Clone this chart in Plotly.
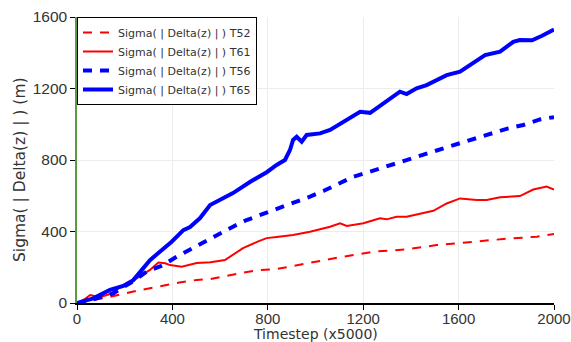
import plotly.graph_objects as go

# ---- data ----
t52_x = [0, 50, 138, 250, 348, 430, 502, 558, 696, 767, 837, 977, 1061, 1103, 1242, 1382, 1508, 1648, 1788, 1928, 2000]
t52_y = [0, 12, 34, 68, 95, 115, 129, 134, 170, 185, 190, 226, 246, 256, 287, 300, 324, 343, 358, 371, 386]

t61_x = [0, 30, 55, 96, 138, 194, 250, 306, 341, 370, 390, 439, 502, 560, 620, 696, 760, 795, 837, 906, 977,
         1061, 1103, 1131, 1201, 1270, 1298, 1340, 1382, 1438, 1494, 1550, 1606, 1676, 1718, 1774, 1857, 1913, 1969, 2000]
t61_y = [0, 20, 45, 32, 50, 100, 138, 185, 226, 222, 212, 203, 224, 228, 240, 307, 345, 363, 369, 380, 399,
         427, 446, 431, 446, 474, 468, 483, 483, 498, 516, 557, 585, 576, 576, 591, 598, 635, 651, 635]

t56_x = [0, 13, 82, 152, 243, 292, 361, 418, 486, 586, 654, 711, 781, 844, 906, 977, 1035, 1103, 1158, 1229,
         1291, 1354, 1424, 1487, 1550, 1613, 1683, 1746, 1808, 1871, 1941, 2000]
t56_y = [0, 0, 26, 54, 128, 175, 212, 259, 307, 380, 427, 464, 498, 526, 558, 595, 628, 671, 706, 735,
         762, 790, 818, 846, 871, 897, 927, 955, 977, 996, 1027, 1040]

t65_x = [0, 30, 68, 138, 194, 236, 306, 397, 446, 474, 516, 558, 600, 654, 725, 797, 837, 872, 893, 906, 921,
         942, 963, 1019, 1061, 1116, 1187, 1229, 1298, 1354, 1382, 1424, 1466, 1550, 1606, 1661, 1711, 1774,
         1829, 1857, 1908, 1950, 2000]
t65_y = [0, 10, 26, 73, 95, 128, 240, 343, 408, 425, 475, 548, 576, 615, 677, 733, 772, 800, 856, 912, 930,
         902, 940, 949, 968, 1014, 1070, 1064, 1126, 1182, 1169, 1201, 1219, 1275, 1294, 1340, 1387, 1406,
         1461, 1471, 1470, 1495, 1530]

x_ticks = [0, 400, 800, 1200, 1600, 2000]
y_ticks = [0, 400, 800, 1200, 1600]
x_title = "Timestep (x5000)"
y_title = "Sigma( | Delta(z) | ) (m)"

TICKFONT = "Liberation Sans"
TEXTFONT = "DejaVu Sans"
fig = go.Figure()
fig.add_trace(go.Scatter(x=t52_x, y=t52_y, mode="lines", name="Sigma( | Delta(z) | ) T52",
                         line=dict(color="#ff0000", width=2, dash="9px,8px")))
fig.add_trace(go.Scatter(x=t61_x, y=t61_y, mode="lines", name="Sigma( | Delta(z) | ) T61",
                         line=dict(color="#ff0000", width=2)))
fig.add_trace(go.Scatter(x=t56_x, y=t56_y, mode="lines", name="Sigma( | Delta(z) | ) T56",
                         line=dict(color="#0000ff", width=4, dash="9px,8px")))
fig.add_trace(go.Scatter(x=t65_x, y=t65_y, mode="lines", name="Sigma( | Delta(z) | ) T65",
                         line=dict(color="#0000ff", width=4)))

fig.update_layout(
    width=571, height=342,
    margin=dict(l=77, r=17, t=17, b=39),
    paper_bgcolor="white", plot_bgcolor="white",
    font=dict(family=TEXTFONT, color="#333333"),
    showlegend=True,
    legend=dict(x=0, y=1, xanchor="left", yanchor="top", bgcolor="white",
                bordercolor="black", borderwidth=1, font=dict(size=11, color="#333333", family=TEXTFONT),
                tracegroupgap=0, itemwidth=30),
    xaxis=dict(range=[0, 2000], tickvals=x_ticks, showgrid=True, gridcolor="#ececec", gridwidth=1,
               showline=True, linecolor="black", linewidth=1.5, ticks="outside", ticklen=5,
               tickcolor="black", zeroline=False, automargin=False, ticklabeloverflow="allow",
               ticklabelstandoff=-4,
               tickfont=dict(size=15, family=TICKFONT)),
    yaxis=dict(range=[0, 1600], tickvals=y_ticks, showgrid=True, gridcolor="#ececec",
               gridwidth=1, showline=True, linecolor="#5a9a40", linewidth=1.5, ticks="outside",
               ticklen=5, tickcolor="black", zeroline=False, automargin=False,
               tickfont=dict(size=15.5, family=TICKFONT)),
    annotations=[
        dict(text=x_title, xref="paper", yref="paper", x=0.5, y=0, xanchor="center", yanchor="top",
             yshift=-21, showarrow=False, font=dict(size=14, family=TEXTFONT, color="#333333")),
        dict(text=y_title, xref="paper", yref="paper", x=0, y=0.5, xanchor="center", yanchor="middle",
             xshift=-57, yshift=-10, textangle=-90, showarrow=False,
             font=dict(size=15.5, family=TEXTFONT, color="#333333")),
    ],
)
# remove the default 8px page margin so the 571x342 figure fills the window exactly
fig.write_html("out.html", config={"displayModeBar": False},
               post_script="document.body.style.margin='0';document.body.style.overflow='hidden';")
